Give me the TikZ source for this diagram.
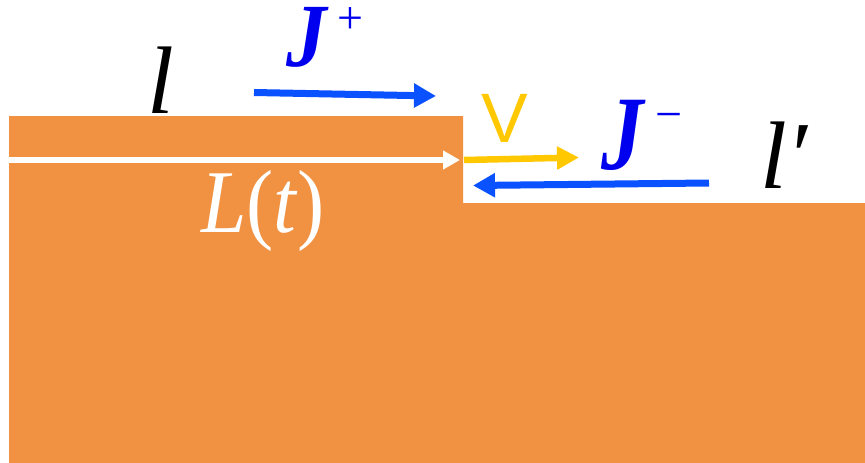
\documentclass[tikz,border=0pt]{standalone}
\usepackage{fontspec}
\usepackage{graphicx}
\setmainfont{Liberation Serif}
\newfontfamily\sansf{Liberation Sans}
\usetikzlibrary{arrows.meta}
\definecolor{orng}{HTML}{F19242}
\definecolor{arrblue}{HTML}{0A52FF}
\definecolor{txtblue}{HTML}{0000EE}
\definecolor{vyel}{HTML}{FFC800}
\tikzset{
  lbl/.style={anchor=base west, inner sep=0pt, outer sep=0pt},
  bluearrow/.style={arrblue, line width=7pt, -{Triangle[length=22pt,width=23pt]}},
  yelarrow/.style={vyel, line width=6.5pt, -{Triangle[length=22pt,width=22pt]}},
  whitearrow/.style={white, line width=5.5pt, -{Triangle[length=17pt,width=18pt]}}
}
\begin{document}
\begin{tikzpicture}[x=1pt,y=-1pt]
\useasboundingbox (0,0) rectangle (865,463);
\fill[orng] (9,116) -- (463,116) -- (463,203) -- (865,203) -- (865,463) -- (9,463) -- cycle;

% connector end points
\coordinate (wA) at (9,160);
\coordinate (wB) at (460,160);
\coordinate (yA) at (464,160);
\coordinate (yB) at (579,157.5);
\coordinate (jpA) at (254,92.5);
\coordinate (jpB) at (436,96);
\coordinate (jmA) at (709,183);
\coordinate (jmB) at (473,185.5);

\draw[whitearrow] (wA) -- (wB);
\draw[yelarrow] (yA) -- (yB);
\draw[bluearrow] (jpA) -- (jpB);
\draw[bluearrow] (jmA) -- (jmB);

% labels
\node[lbl, font=\fontsize{96}{96}\selectfont\itshape] (l) at (147,113) {l};
\node[lbl, text=txtblue, font=\fontsize{86}{86}\selectfont\bfseries\itshape] (jp) at (286,66) {\scalebox{0.94}[1.05]{J}};
\node[lbl, text=txtblue, font=\fontsize{46}{46}\selectfont] (jpsup) at (337,34) {+};
\node[lbl, font=\sansf\fontsize{70}{70}\selectfont, text=vyel] (v) at (481,142) {V};
\node[lbl, text=txtblue, font=\fontsize{92}{92}\selectfont\bfseries\itshape] (jm) at (601,169) {\scalebox{0.92}[1.15]{J}};
\node[lbl, text=txtblue, font=\fontsize{48}{48}\selectfont] (jmsup) at (655,130) {−};
\node[lbl, font=\fontsize{96}{96}\selectfont\itshape] (lp) at (760,188) {l′};
\node[lbl, text=white, font=\fontsize{80}{80}\selectfont] (Lt) at (201,232) {\scalebox{1.02}[1.12]{\textit{L}(\textit{t})}};
\end{tikzpicture}
\end{document}
